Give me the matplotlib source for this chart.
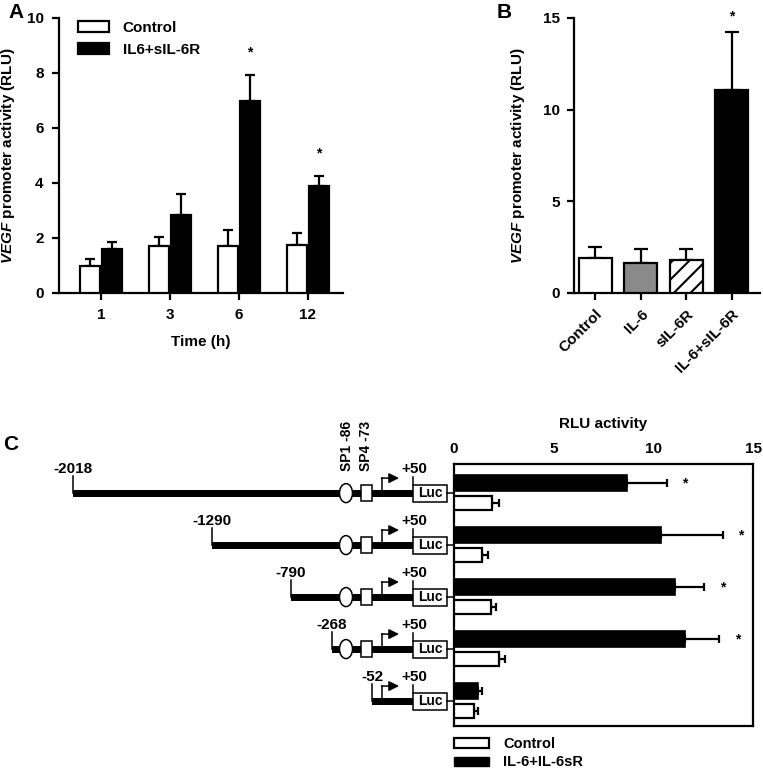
import matplotlib
matplotlib.use("Agg")
import matplotlib.pyplot as plt
from matplotlib.patches import Rectangle, Ellipse, Patch
import numpy as np

plt.rcParams['font.family'] = ['Liberation Sans', 'DejaVu Sans']
plt.rcParams['font.weight'] = 'bold'
plt.rcParams['axes.labelweight'] = 'bold'
plt.rcParams['mathtext.fontset'] = 'custom'
plt.rcParams['mathtext.it'] = 'Liberation Sans:bold:italic'
plt.rcParams['mathtext.rm'] = 'Liberation Sans:bold'
plt.rcParams['hatch.linewidth'] = 1.5

# ---------------- data ----------------
# Panel A
time_labels = ['1', '3', '6', '12']
a_control = [0.97, 1.70, 1.70, 1.75]
a_control_err = [0.27, 0.35, 0.58, 0.42]
a_il6 = [1.61, 2.82, 6.97, 3.90]
a_il6_err = [0.26, 0.79, 0.96, 0.37]
a_star = [False, False, True, True]

# Panel B
b_labels = ['Control', 'IL-6', 'sIL-6R', 'IL-6+sIL-6R']
b_values = [1.91, 1.64, 1.78, 11.09]
b_err = [0.60, 0.76, 0.62, 3.15]

# Panel C
c_constructs = ['-2018', '-1290', '-790', '-268', '-52']
c_has_sites = [True, True, True, True, False]
c_il6 = [8.70, 10.37, 11.09, 11.59, 1.22]
c_il6_err = [1.97, 3.11, 1.47, 1.72, 0.17]
c_control = [1.92, 1.42, 1.86, 2.26, 1.02]
c_control_err = [0.36, 0.27, 0.25, 0.30, 0.17]
c_star = [True, True, True, True, False]

# ---------------- layout ----------------
W, H = 763, 773
fig = plt.figure(figsize=(W / 100, H / 100), dpi=100)


def px(l, t, r, b):
    return [l / W, 1 - b / H, (r - l) / W, (b - t) / H]


LW = 1.6
FS = 11

# overlay axes in pixel coordinates for the schematic
ov = fig.add_axes([0, 0, 1, 1], zorder=0)
ov.set_xlim(0, W)
ov.set_ylim(H, 0)
ov.axis('off')

# ---------- Panel A ----------
axA = fig.add_axes(px(59, 18, 343, 293), zorder=2)
x = np.arange(len(time_labels))
bw = 0.29
axA.bar(x - 0.16, a_control, bw, color='white', edgecolor='black', linewidth=LW, label='Control', zorder=3)
axA.bar(x + 0.16, a_il6, bw, color='black', edgecolor='black', linewidth=LW, label='IL6+sIL-6R', zorder=3)
axA.errorbar(x - 0.16, a_control, yerr=[np.zeros(4), a_control_err], fmt='none', ecolor='black',
             elinewidth=LW, capsize=3.5, capthick=LW, zorder=2)
axA.errorbar(x + 0.16, a_il6, yerr=[np.zeros(4), a_il6_err], fmt='none', ecolor='black',
             elinewidth=LW, capsize=3.5, capthick=LW, zorder=2)
for i in range(len(x)):
    if a_star[i]:
        axA.text(x[i] + 0.16, a_il6[i] + a_il6_err[i] + 0.55, '*', ha='center', va='bottom', fontsize=10)
axA.set_xlim(-0.61, 3.51)
axA.set_ylim(0, 10)
axA.set_yticks([0, 2, 4, 6, 8, 10])
axA.set_xticks(x)
axA.set_xticklabels(time_labels)
axA.spines['top'].set_visible(False)
axA.spines['right'].set_visible(False)
for s in ['left', 'bottom']:
    axA.spines[s].set_linewidth(LW)
axA.tick_params(width=LW, length=5, labelsize=FS, pad=6)
axA.set_xlabel('Time (h)', fontsize=FS, labelpad=9)
axA.set_ylabel(r'$\mathit{VEGF}$ promoter activity (RLU)', fontsize=FS)
axA.yaxis.set_label_coords(-0.148, 0.5)
axA.legend(loc='upper left', bbox_to_anchor=(0.02, 1.04), frameon=False, fontsize=FS,
           handlelength=2.0, handleheight=0.8, handletextpad=0.9, labelspacing=0.5)

# ---------- Panel B ----------
axB = fig.add_axes(px(574, 18, 760, 293), zorder=2)
xb = np.arange(len(b_labels))
b_face = ['white', '#8a8a8a', 'white', 'black']
b_hatch = [None, None, '//', None]
for i in range(len(xb)):
    axB.bar(xb[i], b_values[i], 0.73, color=b_face[i], edgecolor='black', linewidth=LW,
            hatch=b_hatch[i], zorder=3)
axB.errorbar(xb, b_values, yerr=[np.zeros(4), b_err], fmt='none', ecolor='black',
             elinewidth=LW, capsize=5, capthick=LW, zorder=2)
axB.text(xb[3], b_values[3] + b_err[3] + 0.45, '*', ha='center', va='bottom', fontsize=10, clip_on=False)
axB.set_xlim(-0.47, 3.62)
axB.set_ylim(0, 15)
axB.set_yticks([0, 5, 10, 15])
axB.set_xticks(xb)
axB.set_xticklabels(b_labels, rotation=45, ha='right', rotation_mode='anchor')
axB.spines['top'].set_visible(False)
axB.spines['right'].set_visible(False)
for s in ['left', 'bottom']:
    axB.spines[s].set_linewidth(LW)
axB.tick_params(width=LW, length=5, labelsize=FS, pad=5)
axB.set_ylabel(r'$\mathit{VEGF}$ promoter activity (RLU)', fontsize=FS)
axB.yaxis.set_label_coords(-0.253, 0.5)

# ---------- Panel C bars ----------
axC = fig.add_axes(px(454, 464, 753, 726), zorder=2)
yc = np.arange(len(c_constructs))
bh = 0.30
axC.barh(yc - 0.19, c_il6, bh, color='black', edgecolor='black', linewidth=1.2, zorder=3,
         label='IL-6+IL-6sR')
axC.barh(yc + 0.19, c_control, bh * 0.9, color='white', edgecolor='black', linewidth=LW, zorder=3,
         label='Control')
axC.errorbar(c_il6, yc - 0.19, xerr=[np.zeros(5), c_il6_err], fmt='none', ecolor='black',
             elinewidth=LW, capsize=3, capthick=LW, zorder=2)
axC.errorbar(c_control, yc + 0.19, xerr=[np.zeros(5), c_control_err], fmt='none', ecolor='black',
             elinewidth=LW, capsize=3, capthick=LW, zorder=2)
for i in range(len(yc)):
    if c_star[i]:
        axC.text(c_il6[i] + c_il6_err[i] + 0.9, yc[i] - 0.19, '*', ha='center', va='center', fontsize=10)
axC.set_xlim(0, 15)
axC.set_ylim(4.48, -0.56)
axC.set_yticks([])
axC.set_xticks([0, 5, 10, 15])
axC.xaxis.tick_top()
axC.xaxis.set_label_position('top')
axC.set_xlabel('RLU activity', fontsize=FS, labelpad=10)
for s in axC.spines.values():
    s.set_linewidth(LW)
axC.tick_params(axis='x', width=LW, length=0, labelsize=FS, pad=6)
axC.legend([Patch(facecolor='white', edgecolor='black', linewidth=LW),
            Patch(facecolor='black', edgecolor='black')],
           ['Control', 'IL-6+IL-6sR'], loc='upper left', bbox_to_anchor=(-0.02, -0.02),
           frameon=False, fontsize=10.5, handlelength=2.4, handleheight=0.6,
           handletextpad=1.0, labelspacing=0.3, borderaxespad=0)

# ---------- Panel C schematic ----------
fig.canvas.draw()
inv = ov.transData.inverted()


def row_y(i):
    # pixel y (overlay coords) at the middle of a construct's bar pair
    disp = axC.transData.transform((0, yc[i]))
    return inv.transform(disp)[1]


start_x = [73, 212, 291, 332, 372]   # schematic (not to scale) start positions
sp1_x, sp4_x, tss_x, luc_x, luc_w = 346, 366, 382, 413, 34
for i in range(len(c_constructs)):
    y = row_y(i)
    ov.add_patch(Rectangle((start_x[i], y - 3.5), luc_x - start_x[i], 7, color='black', lw=0, zorder=1))
    ov.plot([start_x[i], start_x[i]], [y, y - 17], color='black', lw=1.1, zorder=1)
    ov.text(start_x[i], y - 24, c_constructs[i], ha='center', va='center', fontsize=FS)
    if c_has_sites[i]:
        ov.add_patch(Ellipse((sp1_x, y), 13, 19, facecolor='white', edgecolor='black', lw=1.1, zorder=2))
        ov.add_patch(Rectangle((sp4_x - 5.5, y - 8), 11, 16, facecolor='white', edgecolor='black',
                               lw=1.1, zorder=2))
    ov.plot([tss_x, tss_x], [y, y - 15], color='black', lw=1.1, zorder=1)
    ov.annotate('', xy=(tss_x + 17, y - 15), xytext=(tss_x - 0.5, y - 15),
                arrowprops=dict(arrowstyle='-|>,head_length=0.6,head_width=0.3', color='black', lw=1.1,
                                shrinkA=0, shrinkB=0))
    ov.add_patch(Rectangle((luc_x, y - 8.5), luc_w, 17, facecolor='white', edgecolor='black', lw=1.1, zorder=2))
    ov.text(luc_x + luc_w / 2, y, 'Luc', ha='center', va='center', fontsize=10, zorder=3)
    ov.plot([luc_x, luc_x], [y - 8.5, y - 16], color='black', lw=1.1)
    ov.plot([luc_x + luc_w, 454], [y, y], color='black', lw=1.1)
    ov.text(luc_x + 1, y - 24, '+50', ha='center', va='center', fontsize=FS)

ov.text(sp1_x + 1, 471, 'SP1 -86', rotation=90, ha='center', va='bottom', fontsize=10)
ov.text(sp4_x, 471, 'SP4 -73', rotation=90, ha='center', va='bottom', fontsize=10)

# panel letters
fig.text(8 / W, 1 - 12 / H, 'A', fontsize=15, fontweight='bold', va='center', ha='left')
fig.text(497 / W, 1 - 12 / H, 'B', fontsize=15, fontweight='bold', va='center', ha='left')
fig.text(3 / W, 1 - 445 / H, 'C', fontsize=15, fontweight='bold', va='center', ha='left')

fig.savefig('out.png', dpi=100)
